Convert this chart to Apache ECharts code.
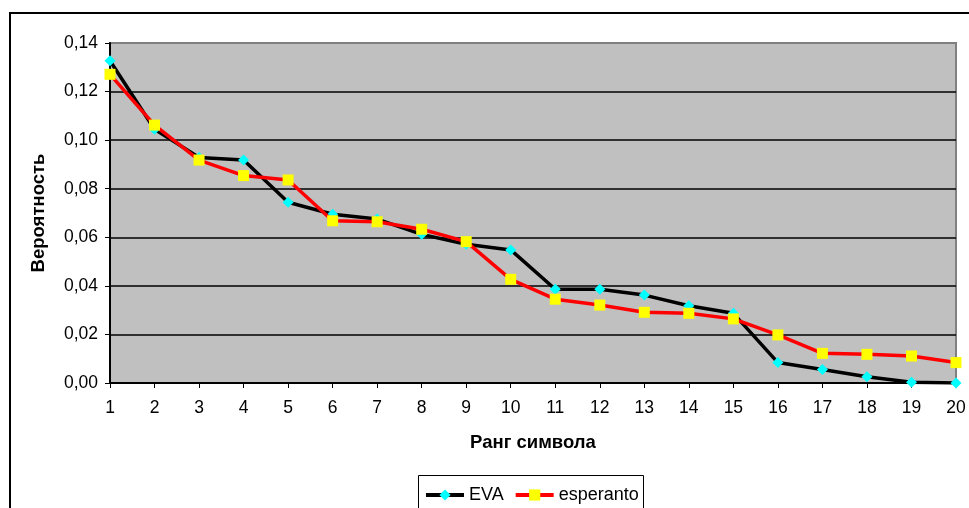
<!DOCTYPE html>
<html>
<head>
<meta charset="utf-8">
<script src="https://cdn.jsdelivr.net/npm/echarts@6/dist/echarts.min.js"></script>
<style>
  html, body { margin: 0; padding: 0; background: #fff; }
  #chart { width: 969px; height: 508px; }
</style>
</head>
<body>
<div id="chart"></div>
<script>
// Symbol rank 1..20
const ranks = ['1','2','3','4','5','6','7','8','9','10','11','12','13','14','15','16','17','18','19','20'];

// Probability of the symbol at each rank
const evaValues = [0.1327, 0.1045, 0.0929, 0.0918, 0.0744, 0.0695, 0.0675, 0.0612, 0.0571, 0.0548,
                   0.0386, 0.0386, 0.0362, 0.0318, 0.0287, 0.0084, 0.0056, 0.0026, 0.0003, 0.0000];
const esperantoValues = [0.1271, 0.1062, 0.0918, 0.0854, 0.0836, 0.0668, 0.0664, 0.0633, 0.0582, 0.0427,
                         0.0345, 0.0321, 0.0291, 0.0287, 0.0264, 0.0198, 0.0122, 0.0118, 0.0111, 0.0084];

const seriesNames = ['EVA', 'esperanto'];
const yTicks = { min: 0, max: 0.14, step: 0.02 };

const FONT = '"Liberation Sans", Arial, sans-serif';

const chart = echarts.init(document.getElementById('chart'), null, { renderer: 'canvas' });

chart.setOption({
  animation: false,
  backgroundColor: '#ffffff',
  textStyle: { fontFamily: FONT },
  grid: {
    left: 110, top: 43, right: 13, bottom: 125,
    show: true,
    backgroundColor: '#c0c0c0',
    borderColor: '#808080',
    borderWidth: 2
  },
  xAxis: {
    type: 'category',
    data: ranks,
    boundaryGap: false,
    name: 'Ранг символа',
    nameLocation: 'middle',
    nameGap: 50,
    nameTextStyle: { fontFamily: FONT, fontSize: 18.5, fontWeight: 'bold', color: '#000' },
    axisLine: { lineStyle: { color: '#000', width: 2 } },
    axisTick: { show: true, length: 5, alignWithLabel: true, lineStyle: { color: '#000', width: 1 } },
    axisLabel: { fontFamily: FONT, fontSize: 17.5, color: '#000', margin: 16, interval: 0 },
    splitLine: { show: false }
  },
  yAxis: {
    type: 'value',
    min: yTicks.min,
    max: yTicks.max,
    interval: yTicks.step,
    name: 'Вероятность',
    nameLocation: 'middle',
    nameGap: 62,
    nameRotate: 90,
    nameTextStyle: { fontFamily: FONT, fontSize: 18.5, fontWeight: 'bold', color: '#000' },
    axisLine: { show: true, lineStyle: { color: '#000', width: 2 } },
    axisTick: { show: true, length: 5, lineStyle: { color: '#000', width: 1 } },
    axisLabel: {
      fontFamily: FONT, fontSize: 17.5, color: '#000', margin: 12,
      formatter: v => v.toFixed(2).replace('.', ',')
    },
    splitLine: { show: true, showMinLine: false, showMaxLine: false, lineStyle: { color: '#000', width: 1.5 } }
  },
  legend: {
    left: 419,
    top: 481,
    itemWidth: 38,
    itemHeight: 14,
    itemGap: 10,
    lineStyle: { width: 4 },
    textStyle: { fontFamily: FONT, fontSize: 18, color: '#000' },
    data: seriesNames
  },
  series: [
    {
      name: seriesNames[0],
      type: 'line',
      data: evaValues,
      symbol: 'diamond',
      symbolSize: 11,
      lineStyle: { color: '#000', width: 3.5 },
      itemStyle: { color: '#00ffff', borderWidth: 0 },
      z: 2
    },
    {
      name: seriesNames[1],
      type: 'line',
      data: esperantoValues,
      symbol: 'rect',
      symbolSize: 11,
      lineStyle: { color: '#ff0000', width: 3.5 },
      itemStyle: { color: '#ffff00', borderWidth: 0 },
      z: 3
    }
  ],
  graphic: [
    {
      type: 'rect',
      shape: { x: 10, y: 13, width: 1000, height: 600 },
      style: { fill: 'none', stroke: '#000', lineWidth: 2 },
      silent: true, z: 100
    },
    {
      type: 'rect',
      shape: { x: 418.5, y: 475.5, width: 225, height: 60 },
      style: { fill: 'none', stroke: '#000', lineWidth: 1 },
      silent: true, z: 100
    }
  ]
});
</script>
</body>
</html>
